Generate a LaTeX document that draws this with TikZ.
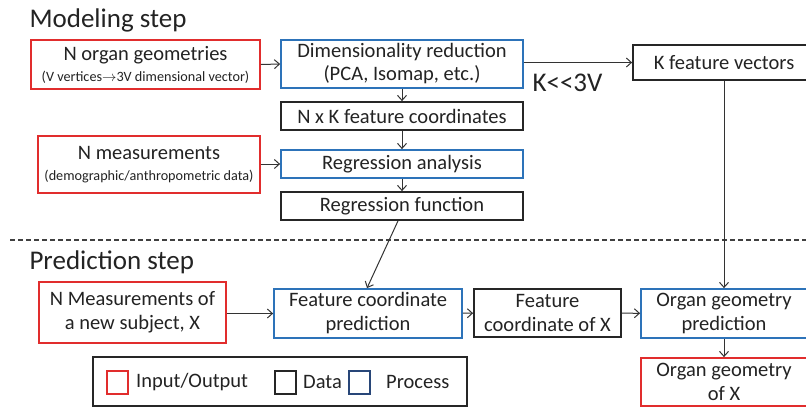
\documentclass[tikz,border=0pt]{standalone}
\usepackage{fontspec}
\setmainfont{Carlito}
\usetikzlibrary{arrows.meta}
\definecolor{ioRed}{RGB}{225,45,45}
\definecolor{procBlue}{RGB}{45,115,185}
\definecolor{legBlue}{RGB}{40,70,120}
\definecolor{txt}{RGB}{35,35,35}
\begin{document}
\begin{tikzpicture}[x=1pt,y=-1pt,
  font=\fontsize{20.5}{24}\selectfont, text=txt,
  box/.style={draw, line width=1.8pt, align=center, inner sep=0pt, fill=white},
  io/.style={box, draw=ioRed},
  data/.style={box, draw=black!85},
  proc/.style={box, draw=procBlue},
  arr/.style={-{Straight Barb[length=5pt,width=9pt]}, line width=1pt, draw=black!80},
  ttl/.style={anchor=base west, font=\fontsize{27}{30}\selectfont}]
\useasboundingbox (0,0) rectangle (806,408);
\clip (0,0) rectangle (806,408);
% titles
\node[ttl] (t1) at (26,27) {Modeling step};
\node[ttl] (t2) at (26,269) {Prediction step};
% dashed separator
\draw[dashed, dash pattern=on 5pt off 3pt, line width=1.3pt, black!75] (10,240) -- (806,240);
% modeling boxes
\node[io, minimum width=229, minimum height=49] (og) at (145.5,64.5)
  {N organ geometries\\[-3pt]{\fontsize{14.2}{16}\selectfont(V vertices$\rightarrow$3V dimensional vector)}};
\node[proc, minimum width=242, minimum height=48] (dr) at (402,64)
  {Dimensionality reduction\\[-1pt](PCA, Isomap, etc.)};
\node[data, minimum width=182, minimum height=35] (kf) at (724,62.5) {K feature vectors};
\node[data, minimum width=242, minimum height=28] (nk) at (402,116) {N x K feature coordinates};
\node[io, minimum width=222, minimum height=57] (nm) at (149,164.5)
  {N measurements\\[-3pt]{\fontsize{14.2}{16}\selectfont(demographic/anthropometric data)}};
\node[proc, minimum width=242, minimum height=28] (ra) at (402,164) {Regression analysis};
\node[data, minimum width=242, minimum height=28] (rf) at (402,206) {Regression function};
\node[anchor=base west, font=\fontsize{27}{30}\selectfont] (kl) at (529,91) {K<{}<3V};
% prediction boxes
\node[io, minimum width=187, minimum height=61] (nx) at (132.5,312.5)
  {N Measurements of\\a new subject, X};
\node[proc, minimum width=188, minimum height=49] (fcp) at (368,313.5)
  {Feature coordinate\\prediction};
\node[data, minimum width=147, minimum height=48] (fcx) at (547.5,313)
  {Feature\\coordinate of X};
\node[proc, minimum width=166, minimum height=49] (ogp) at (724,313.5)
  {Organ geometry\\prediction};
\node[io, minimum width=166, minimum height=48] (ogx) at (724,382)
  {Organ geometry\\of X};
% legend
\node[draw=black!85, line width=1.3pt, minimum width=374, minimum height=49, inner sep=0pt] (leg) at (280,381.5) {};
\node[draw=ioRed, line width=1.5pt, minimum width=21, minimum height=23, inner sep=0pt] (lr) at (117.5,382.5) {};
\node[anchor=west, inner sep=0pt] (lrt) at (136,382) {Input/Output};
\node[draw=black!85, line width=1.5pt, minimum width=21, minimum height=23, inner sep=0pt] (lk) at (285.5,382.5) {};
\node[anchor=west, inner sep=0pt] (lkt) at (303,382) {Data};
\node[draw=legBlue, line width=1.5pt, minimum width=21, minimum height=23, inner sep=0pt] (lb) at (359.5,382.5) {};
\node[anchor=west, inner sep=0pt] (lbt) at (386,382) {Process};
% connectors
\draw[arr] (og.east) -- (dr.west);
\draw[arr] (dr.east |- kf.west) -- (kf.west);
\draw[arr] (dr) -- (nk);
\draw[arr] (nk) -- (ra);
\draw[arr] (nm.east |- ra.west) -- (ra.west);
\draw[arr] (ra) -- (rf);
\draw[arr] ([xshift=-4pt]rf.south) -- ([xshift=-1pt]fcp.north);
\draw[arr] (kf) -- (ogp);
\draw[arr] (nx.east |- fcp.west) -- (fcp.west);
\draw[arr] (fcp) -- (fcx);
\draw[arr] (fcx) -- (ogp);
\draw[arr] (ogp) -- (ogx);
\end{tikzpicture}
\end{document}
